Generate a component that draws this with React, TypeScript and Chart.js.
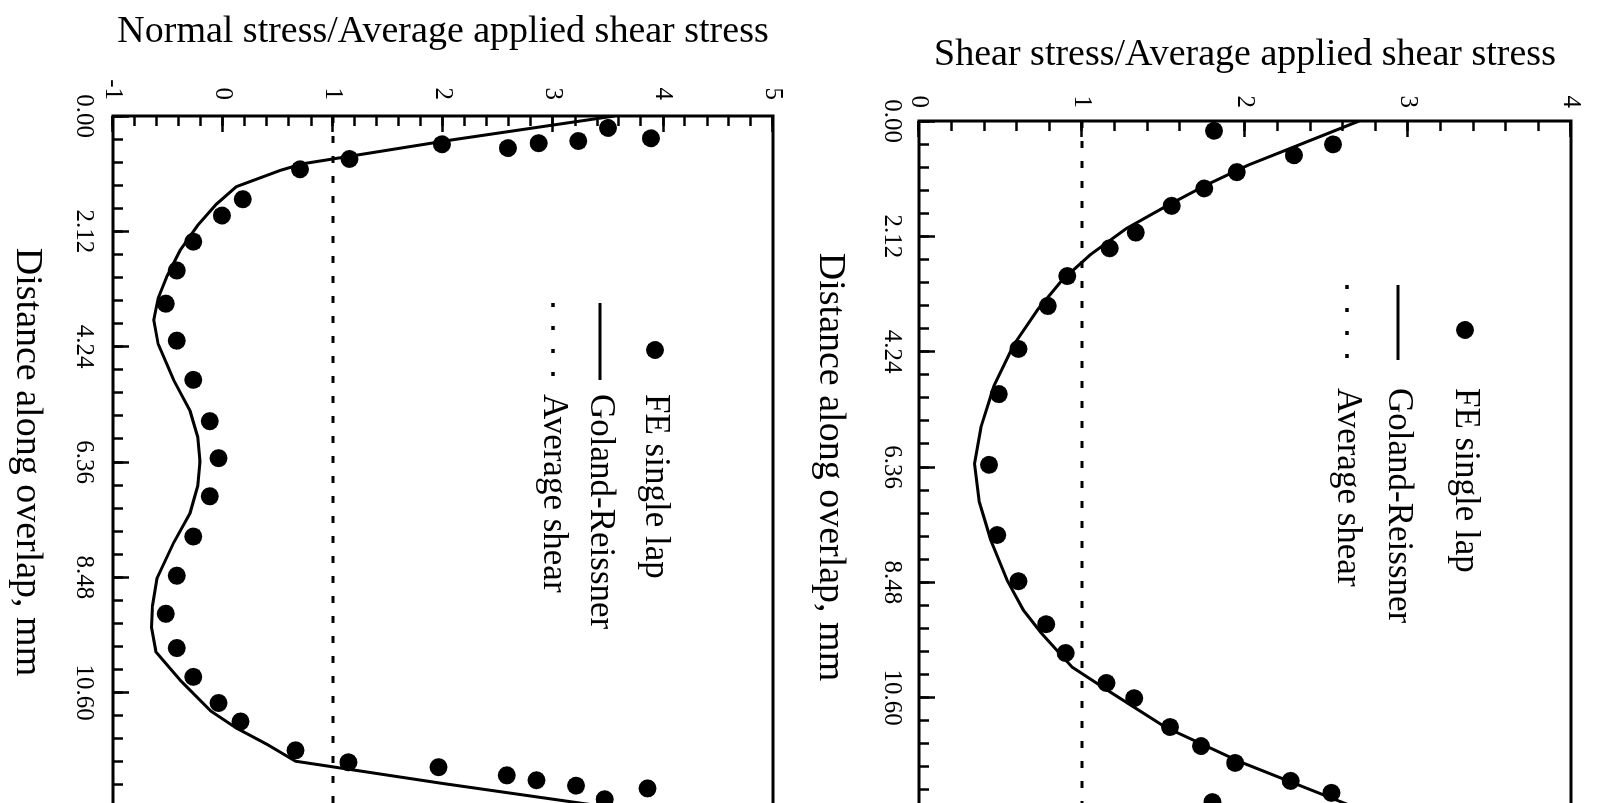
import React, { useEffect, useRef } from 'react';
import { Chart, registerables } from 'chart.js';

Chart.register(...registerables);

// ---------- data ----------
const DIST_TICKS = [0, 2.12, 4.24, 6.36, 8.48, 10.6, 12.72];
const DIST_TICK_LABELS = ['0.00', '2.12', '4.24', '6.36', '8.48', '10.60', ''];
const NORMAL_TICKS = [-1, 0, 1, 2, 3, 4, 5];
const NORMAL_TICK_LABELS = ['-1', '0', '1', '2', '3', '4', '5'];
const SHEAR_TICKS = [0, 1, 2, 3, 4];
const SHEAR_TICK_LABELS = ['0', '1', '2', '3', '4'];

const SERIES_LABELS = ['FE single lap', 'Goland-Reissner', 'Average shear'];

// Normal stress panel
const NORMAL_FE_DIST = [0.22, 0.41, 0.46, 0.5, 0.59, 0.52, 0.79, 0.98, 1.53, 1.83, 2.31, 2.84, 3.45, 4.13, 4.85, 5.61, 6.29, 6.99, 7.73, 8.45, 9.15, 9.78, 10.31, 10.79, 11.13, 11.66, 11.88, 11.97, 12.12, 12.21, 12.31, 12.56, 12.36];
const NORMAL_FE_VALUE = [3.5, 3.89, 3.23, 2.87, 2.59, 1.99, 1.15, 0.7, 0.18, -0.01, -0.27, -0.42, -0.52, -0.42, -0.27, -0.12, -0.04, -0.12, -0.27, -0.42, -0.52, -0.42, -0.27, -0.04, 0.16, 0.66, 1.14, 1.96, 2.58, 2.85, 3.21, 3.47, 3.86];
const NORMAL_GR_DIST = [0, 0.44, 0.88, 1.0, 1.3, 1.62, 2.01, 2.47, 2.95, 3.35, 3.75, 4.19, 4.85, 5.42, 5.9, 6.35, 6.8, 7.3, 7.85, 8.5, 9.0, 9.4, 9.85, 10.39, 10.94, 11.25, 11.55, 11.86, 12.27, 12.72];
const NORMAL_GR_VALUE = [3.56, 2.08, 0.72, 0.52, 0.12, -0.06, -0.23, -0.39, -0.51, -0.59, -0.63, -0.59, -0.45, -0.3, -0.23, -0.21, -0.23, -0.3, -0.45, -0.6, -0.64, -0.65, -0.61, -0.38, -0.11, 0.12, 0.4, 0.66, 2.0, 3.56];

// Shear stress panel
const SHEAR_FE_DIST = [0.18, 0.43, 0.63, 0.94, 1.24, 1.56, 2.05, 2.34, 2.85, 3.4, 4.19, 5.02, 6.32, 7.61, 8.46, 9.25, 9.78, 10.33, 10.61, 11.14, 11.49, 11.8, 12.13, 12.35, 12.52];
const SHEAR_FE_VALUE = [1.81, 2.54, 2.3, 1.95, 1.75, 1.55, 1.33, 1.17, 0.91, 0.79, 0.61, 0.49, 0.43, 0.48, 0.61, 0.78, 0.9, 1.15, 1.32, 1.54, 1.73, 1.94, 2.28, 2.53, 1.8];
const SHEAR_GR_DIST = [0, 0.43, 0.81, 1.18, 1.56, 1.98, 2.46, 2.92, 3.46, 4.12, 4.87, 5.63, 6.3, 7.0, 7.7, 8.44, 8.99, 9.41, 10.04, 10.51, 11.14, 11.78, 12.48, 12.72];
const SHEAR_GR_VALUE = [2.7, 2.34, 2.02, 1.76, 1.52, 1.27, 1.05, 0.88, 0.73, 0.58, 0.46, 0.38, 0.34, 0.37, 0.44, 0.54, 0.64, 0.75, 0.94, 1.18, 1.51, 1.97, 2.56, 2.76];

const AVG_DIST = [0, 12.72];
const AVG_VALUE = [1, 1];

const FONT_FAMILY = "'Liberation Serif', 'Times New Roman', serif";

// ---------- plugins ----------
const framePlugin = {
  id: 'frame',
  afterDatasetsDraw(chart: any) {
    const { ctx, chartArea } = chart;
    ctx.save();
    ctx.strokeStyle = '#000';
    ctx.lineWidth = 3;
    ctx.strokeRect(chartArea.left, chartArea.top, chartArea.right - chartArea.left, chartArea.bottom - chartArea.top);
    ctx.restore();
  },
};

const legendPlugin = {
  id: 'rotLegend',
  afterDraw(chart: any, _args: any, opts: any) {
    const ctx = chart.ctx;
    ctx.save();
    ctx.fillStyle = '#000';
    ctx.strokeStyle = '#000';
    ctx.font = `${opts.fontSize}px ${FONT_FAMILY}`;
    ctx.textBaseline = 'middle';
    ctx.textAlign = 'left';
    chart.data.datasets.forEach((ds: any, i: number) => {
      const y = opts.rows[i];
      if (ds.showLine === false) {
        ctx.beginPath();
        ctx.arc(opts.bullet, y, ds.pointRadius, 0, Math.PI * 2);
        ctx.fill();
      } else {
        ctx.lineWidth = ds.borderDash ? 3.5 : 3;
        ctx.setLineDash(ds.borderDash ? [4, 19] : []);
        ctx.beginPath();
        ctx.moveTo(opts.sym0, y);
        ctx.lineTo(opts.sym1, y);
        ctx.stroke();
        ctx.setLineDash([]);
      }
      ctx.fillText(ds.label, opts.text, y);
    });
    ctx.restore();
  },
};

// ---------- panels ----------
type PanelCfg = {
  X0: number; Y0: number; W: number; H: number;
  yAxisW: number; xAxisH: number; padTop: number; padRight: number;
  yMin: number; yMax: number; yTicks: number[]; yLabels: string[];
  yTitle: string; yTickPad: number; xTickPad: number; yTitlePad: number; xTitlePad: number;
  feX: number[]; feY: number[]; grX: number[]; grY: number[];
  legend: { rows: number[]; sym0: number; sym1: number; bullet: number; text: number; fontSize: number };
};

const NORMAL_PANEL: PanelCfg = {
  X0: 0, Y0: 0, W: 880, H: 820,
  yAxisW: 116, xAxisH: 113, padTop: 29, padRight: 72,
  yMin: -1, yMax: 5, yTicks: NORMAL_TICKS, yLabels: NORMAL_TICK_LABELS,
  yTitle: 'Normal stress/Average applied shear stress',
  yTickPad: 32, xTickPad: 30, yTitlePad: 13, xTitlePad: 8,
  feX: NORMAL_FE_DIST, feY: NORMAL_FE_VALUE, grX: NORMAL_GR_DIST, grY: NORMAL_GR_VALUE,
  legend: { rows: [165, 220, 267], sym0: 303, sym1: 380, bullet: 350, text: 394, fontSize: 35 },
};

const SHEAR_PANEL: PanelCfg = {
  X0: 790, Y0: 0, W: 880, H: 825,
  yAxisW: 121, xAxisH: 129, padTop: 18, padRight: 67,
  yMin: 0, yMax: 4, yTicks: SHEAR_TICKS, yLabels: SHEAR_TICK_LABELS,
  yTitle: 'Shear stress/Average applied shear stress',
  yTickPad: 29, xTickPad: 28, yTitlePad: 36, xTitlePad: 21,
  feX: SHEAR_FE_DIST, feY: SHEAR_FE_VALUE, grX: SHEAR_GR_DIST, grY: SHEAR_GR_VALUE,
  legend: { rows: [150, 217, 268], sym0: 285, sym1: 360, bullet: 330, text: 388, fontSize: 35 },
};

function Panel({ cfg }: { cfg: PanelCfg }) {
  const ref = useRef<HTMLCanvasElement>(null);
  useEffect(() => {
    const tickFont = { family: FONT_FAMILY, size: 25 };
    const chart = new Chart(ref.current as HTMLCanvasElement, {
      type: 'scatter',
      data: {
        datasets: [
          {
            label: SERIES_LABELS[0],
            data: cfg.feX.map((x, i) => ({ x, y: cfg.feY[i] })),
            showLine: false,
            pointRadius: 9,
            pointBackgroundColor: '#000',
            pointBorderColor: '#000',
            pointBorderWidth: 0,
          },
          {
            label: SERIES_LABELS[1],
            data: cfg.grX.map((x, i) => ({ x, y: cfg.grY[i] })),
            showLine: true,
            pointRadius: 0,
            borderColor: '#000',
            borderWidth: 3,
            tension: 0,
          },
          {
            label: SERIES_LABELS[2],
            data: AVG_DIST.map((x, i) => ({ x, y: AVG_VALUE[i] })),
            showLine: true,
            pointRadius: 0,
            borderColor: '#000',
            borderWidth: 3,
            borderDash: [7, 13],
          },
        ],
      } as any,
      options: {
        animation: false,
        responsive: false,
        devicePixelRatio: 1,
        events: [],
        layout: { padding: { top: cfg.padTop, right: cfg.padRight, bottom: 0, left: 0 } },
        plugins: {
          legend: { display: false },
          tooltip: { enabled: false },
          rotLegend: cfg.legend,
        } as any,
        scales: {
          x: {
            type: 'linear', position: 'bottom', weight: 1, min: 0, max: 12.72,
            afterBuildTicks: (s: any) => { s.ticks = DIST_TICKS.map((v) => ({ value: v })); },
            afterFit: (s: any) => { s.height = cfg.xAxisH; },
            ticks: {
              autoSkip: false, maxRotation: 0, minRotation: 0, color: '#000', font: tickFont, padding: cfg.xTickPad,
              callback: (_v: any, i: number) => DIST_TICK_LABELS[i],
            },
            grid: { drawOnChartArea: false, drawTicks: true, tickLength: -16, tickWidth: 2.5, tickColor: '#000' },
            border: { display: false },
            title: {
              display: true, text: 'Distance along overlap, mm', color: '#000',
              font: { family: FONT_FAMILY, size: 38, lineHeight: 1 },
              padding: { top: 0, bottom: cfg.xTitlePad },
            },
          },
          xMinor: {
            type: 'linear', position: 'bottom', weight: 0, min: 0, max: 12.72,
            afterFit: (s: any) => { s.height = 0; },
            ticks: { display: false, stepSize: 0.424 },
            grid: { drawOnChartArea: false, drawTicks: true, tickLength: -10, tickWidth: 2.5, tickColor: '#000' },
            border: { display: false },
          },
          y: {
            type: 'linear', position: 'left', weight: 1, min: cfg.yMin, max: cfg.yMax,
            afterBuildTicks: (s: any) => { s.ticks = cfg.yTicks.map((v) => ({ value: v })); },
            afterFit: (s: any) => { s.width = cfg.yAxisW; },
            ticks: {
              color: '#000', font: tickFont, padding: cfg.yTickPad,
              callback: (_v: any, i: number) => cfg.yLabels[i],
            },
            grid: { drawOnChartArea: false, drawTicks: true, tickLength: -16, tickWidth: 2.5, tickColor: '#000' },
            border: { display: false },
            title: {
              display: true, text: cfg.yTitle, color: '#000',
              font: { family: FONT_FAMILY, size: 38, lineHeight: 1 },
              padding: { top: cfg.yTitlePad, bottom: 0 },
            },
          },
          yMinor: {
            type: 'linear', position: 'left', weight: 0, min: cfg.yMin, max: cfg.yMax,
            afterFit: (s: any) => { s.width = 0; },
            ticks: { display: false, stepSize: 0.2 },
            grid: { drawOnChartArea: false, drawTicks: true, tickLength: -10, tickWidth: 2.5, tickColor: '#000' },
            border: { display: false },
          },
        } as any,
      },
      plugins: [framePlugin, legendPlugin],
    });
    return () => chart.destroy();
  }, []);
  return (
    <div
      style={{
        position: 'fixed', left: 0, top: 0, width: cfg.W, height: cfg.H,
        transformOrigin: '0 0',
        transform: `translate(${cfg.X0 + cfg.H}px, ${cfg.Y0}px) rotate(90deg)`,
      }}
    >
      <canvas ref={ref} width={cfg.W} height={cfg.H} style={{ width: cfg.W, height: cfg.H, display: 'block' }} />
    </div>
  );
}

export default function App() {
  return (
    <div style={{ position: 'fixed', left: 0, top: 0, width: 1615, height: 803, background: '#fff', overflow: 'hidden' }}>
      <Panel cfg={NORMAL_PANEL} />
      <Panel cfg={SHEAR_PANEL} />
    </div>
  );
}
